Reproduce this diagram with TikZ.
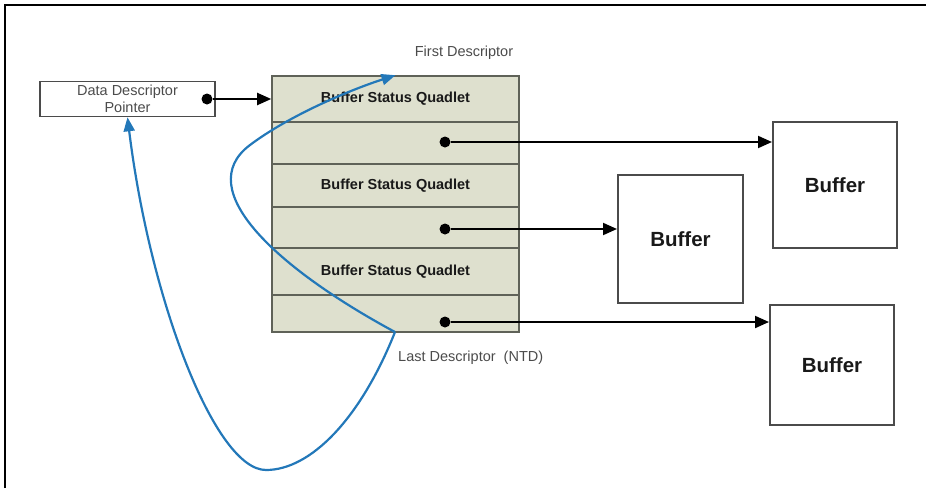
\documentclass[tikz,border=0pt]{standalone}
\definecolor{stackFill}{RGB}{222,224,206}
\definecolor{stackLine}{RGB}{95,98,88}
\definecolor{boxGray}{RGB}{75,75,75}
\definecolor{labelGray}{RGB}{75,75,75}
\definecolor{linkBlue}{RGB}{35,120,185}
\usepackage{fontspec}
\setmainfont{Liberation Sans}
\usepackage{tikz}
\usetikzlibrary{arrows.meta,positioning,calc}

\begin{document}
\begin{tikzpicture}[x=1pt,y=-1pt,
        row/.style={draw=stackLine, fill=stackFill, line width=1.6pt, minimum width=247pt,
          inner sep=0pt, font=\fontsize{14.5}{16}\selectfont\bfseries, text=black!90},
        buf/.style={draw=boxGray, line width=2pt, inner sep=0pt,
          font=\fontsize{20.5}{22}\selectfont\bfseries, text=black!90},
        pdot/.style={circle, fill=black, inner sep=0pt, minimum size=11pt},
        arr/.style={line width=2pt, -{Triangle[length=14pt,width=12pt]}},
        loop/.style={draw=linkBlue, line width=2.2pt, -{Triangle[length=14pt,width=11pt]}},
        lbl/.style={font=\fontsize{14.5}{16}\selectfont, text=labelGray, inner sep=0pt}
      ]
        \useasboundingbox (0,0) rectangle (927,488);
        \draw[line width=1.4pt] (5,488) -- (5,5) -- (926,5);
        % descriptor pointer
        \node[draw=boxGray, line width=1.6pt, minimum width=175pt, minimum height=35pt,
          inner sep=0pt, align=center, font=\fontsize{14.5}{17}\selectfont, text=labelGray]
          (ptr) at (127.5,99) {Data Descriptor\\Pointer};
        \node[pdot] (p0) at (207,99) {};
        % descriptor stack
        \node[row, minimum height=46pt] (st1) at (395.5,99) {Buffer Status Quadlet};
        \node[row, minimum height=42pt] (pt1) at (395.5,143) {};
        \node[row, minimum height=43pt] (st2) at (395.5,185.5) {Buffer Status Quadlet};
        \node[row, minimum height=41pt] (pt2) at (395.5,227.5) {};
        \node[row, minimum height=47pt] (st3) at (395.5,271.5) {Buffer Status Quadlet};
        \node[row, minimum height=37pt] (pt3) at (395.5,313.5) {};
        \node[pdot] (d1) at (445,142) {};
        \node[pdot] (d2) at (445,229) {};
        \node[pdot] (d3) at (445,322) {};
        % buffers
        \node[buf, minimum width=124pt, minimum height=126pt] (bufA) at (835,185) {Buffer};
        \node[buf, minimum width=125pt, minimum height=128pt] (bufB) at (680.5,239) {Buffer};
        \node[buf, minimum width=124pt, minimum height=120pt] (bufC) at (832,365) {Buffer};
        % labels
        \node[lbl] (first) at (464,53) {First Descriptor};
        \node[lbl, anchor=west] (last) at (398,358) {Last Descriptor~~(NTD)};
        % pointers
        \draw[arr] (p0) -- (st1.west);
        \draw[arr] (d1) -- (d1 -| bufA.west);
        \draw[arr] (d2) -- (d2 -| bufB.west);
        \draw[arr] (d3) -- (d3 -| bufC.west);
        % ring back to start
        \coordinate (ntd) at (395,332);
        \draw[loop] (ntd) .. controls (360,420) and (310,470) .. (266,470)
          .. controls (215,470) and (150,300) .. (ptr.south);
        \draw[loop] (ntd) .. controls (280,270) and (190,190) .. (250,145)
          .. controls (290,115) and (350,90) .. (st1.north);
      \end{tikzpicture}
\end{document}
